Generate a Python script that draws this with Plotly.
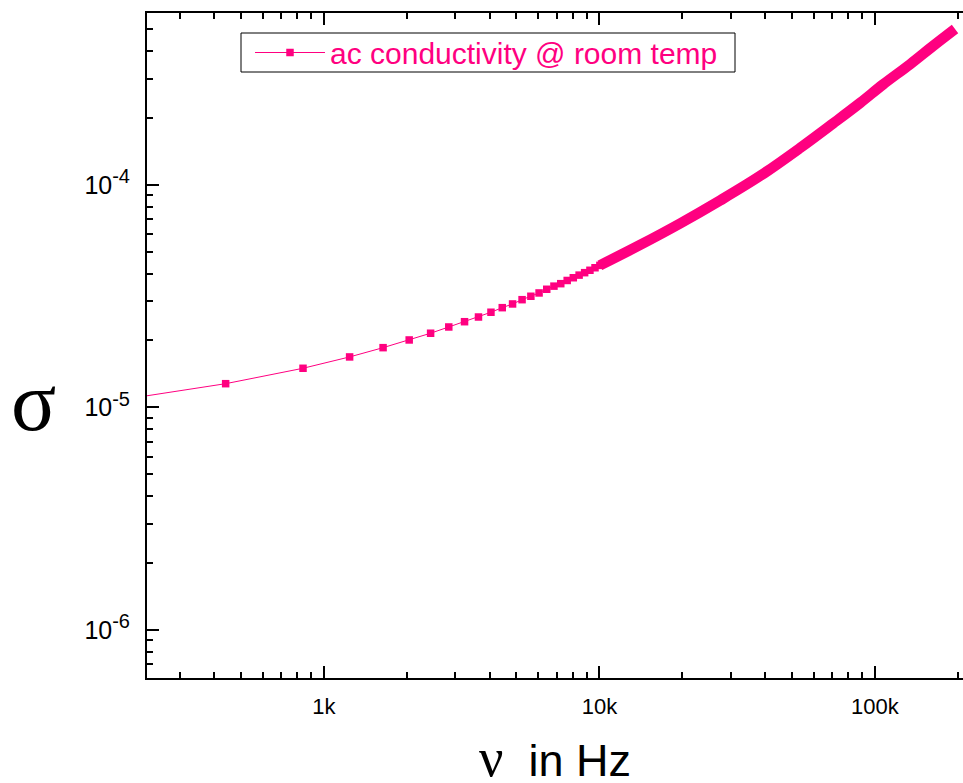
import plotly.graph_objects as go

# ---- data ----
freq_hz = [40, 440, 840, 1240, 1640, 2040, 2440, 2840, 3240, 3640, 4040, 4440,
           4840, 5240, 5640, 6040, 6440, 6840, 7240, 7640, 8040, 8440, 8840,
           9240, 9640, 10040]
sigma = [8.1e-6, 1.279e-5, 1.500e-5, 1.687e-5, 1.857e-5, 2.011e-5, 2.156e-5,
         2.300e-5, 2.429e-5, 2.550e-5, 2.679e-5, 2.809e-5, 2.919e-5, 3.051e-5,
         3.161e-5, 3.271e-5, 3.398e-5, 3.510e-5, 3.601e-5, 3.722e-5, 3.829e-5,
         3.934e-5, 4.035e-5, 4.136e-5, 4.246e-5, 4.352e-5]

# dense high-frequency part (markers merge into a solid band)
band_freq_hz = [10040, 14050, 19630, 27410, 38290, 53480, 70470, 88300,
                107000, 134100, 162500, 195300]
band_sigma = [4.352e-5, 5.376e-5, 6.713e-5, 8.517e-5, 1.0976e-4, 1.4664e-4,
              1.890e-4, 2.336e-4, 2.829e-4, 3.487e-4, 4.214e-4, 5.025e-4]

x_tickvals = [1000, 10000, 100000]
x_ticktext = ["1k", "10k", "100k"]
y_tickvals = [1e-6, 1e-5, 1e-4]
y_ticktext = ["10<sup><span style='font-size:20px'>-6</span></sup>",
              "10<sup><span style='font-size:20px'>-5</span></sup>",
              "10<sup><span style='font-size:20px'>-4</span></sup>"]
x_minor = [m * 10 ** e for e in (2, 3, 4, 5) for m in range(2, 10)]
y_minor = [m * 10 ** e for e in (-7, -6, -5, -4) for m in range(2, 10)]

series_name = "ac conductivity @ room temp"
PINK = "#FF0080"
SANS = "Liberation Sans, Arial, sans-serif"
SERIF = "Liberation Serif, Times New Roman, serif"

# plot area in pixels
L, R, T, B = 147, 963, 13, 678
W, H = R - L, B - T


def px_x(x):
    return (x - L) / W


def px_y(y):
    return (B - y) / H


fig = go.Figure()
fig.add_trace(go.Scatter(
    x=band_freq_hz, y=band_sigma, mode="lines", showlegend=False,
    line=dict(color=PINK, width=10.5, shape="spline"), hoverinfo="skip"))
fig.add_trace(go.Scatter(
    x=freq_hz, y=sigma, mode="lines+markers", name=series_name,
    line=dict(color=PINK, width=1),
    marker=dict(symbol="square", size=7.5, color=PINK)))

fig.update_layout(
    width=963, height=783,
    margin=dict(l=L, r=963 - R, t=T, b=783 - B),
    paper_bgcolor="white", plot_bgcolor="white",
    font=dict(family=SANS, color="black"),
    showlegend=True,
    legend=dict(x=px_x(250), y=px_y(52.5), xanchor="left", yanchor="middle",
                borderwidth=0, bgcolor="rgba(0,0,0,0)",
                font=dict(size=30, color=PINK, family=SANS),
                itemwidth=70, tracegroupgap=0),
    shapes=[
        dict(type="rect", xref="paper", yref="paper",
             x0=px_x(241), x1=px_x(735), y0=px_y(72), y1=px_y(33),
             line=dict(color="black", width=1), fillcolor="rgba(0,0,0,0)",
             layer="below"),
    ],
    annotations=[
        dict(text="σ", x=px_x(33), y=px_y(401), xref="paper", yref="paper",
             showarrow=False, font=dict(family=SERIF, size=84, color="black"),
             xanchor="center", yanchor="middle"),
        dict(text="<span style='font-family:Liberation Serif;font-size:54px'>ν</span>\u00a0\u00a0in Hz",
             xref="paper", yref="paper", x=px_x(555), y=px_y(758),
             showarrow=False, font=dict(family=SANS, size=45, color="black"),
             xanchor="center", yanchor="middle"),
    ],
)

fig.update_xaxes(
    type="log", range=[2.358, 5.3197],
    showline=True, linecolor="black", linewidth=2, mirror="allticks",
    showgrid=False, zeroline=False,
    ticks="inside", ticklen=12, tickwidth=2, tickcolor="black",
    tickvals=x_tickvals, ticktext=x_ticktext,
    tickfont=dict(size=22, family=SANS, color="black"),
    ticklabelstandoff=8,
    minor=dict(ticks="inside", ticklen=6, tickwidth=1.5, tickcolor="black",
               tickvals=x_minor, showgrid=False),
)
fig.update_yaxes(
    type="log", range=[-6.216, -3.227],
    showline=True, linecolor="black", linewidth=2, mirror=False,
    showgrid=False, zeroline=False,
    ticks="inside", ticklen=12, tickwidth=2, tickcolor="black",
    tickvals=y_tickvals, ticktext=y_ticktext,
    tickfont=dict(size=25, family=SANS, color="black"),
    ticklabelstandoff=10,
    minor=dict(ticks="inside", ticklen=6, tickwidth=1.5, tickcolor="black",
               tickvals=y_minor, showgrid=False),
)

fig.write_html(
    "out.html",
    config={"displayModeBar": False},
    post_script="document.body.style.margin='0';document.body.style.overflow='hidden';",
)
